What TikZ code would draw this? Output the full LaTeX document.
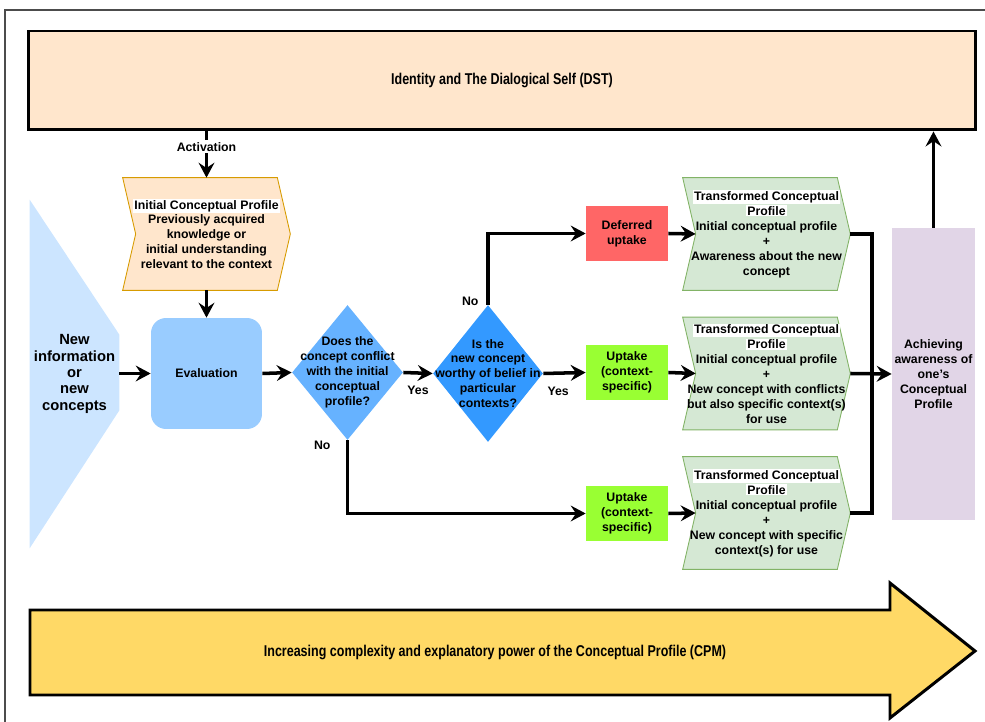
\documentclass[tikz,border=0pt]{standalone}
\usepackage{fontspec}
\setmainfont{Liberation Sans}
\newfontfamily\narrowfont[FakeStretch=0.8]{Liberation Sans}
\definecolor{dstpeach}{RGB}{255, 230, 204}
\definecolor{peachline}{RGB}{215, 155, 0}
\definecolor{profgreen}{RGB}{213, 232, 212}
\definecolor{greenline}{RGB}{130, 179, 102}
\definecolor{infoblue}{RGB}{204, 229, 255}
\definecolor{evalblue}{RGB}{153, 204, 255}
\definecolor{qblue1}{RGB}{102, 178, 255}
\definecolor{qblue2}{RGB}{51, 153, 255}
\definecolor{deferred}{RGB}{255, 102, 102}
\definecolor{uptakegreen}{RGB}{153, 255, 51}
\definecolor{achpurple}{RGB}{225, 213, 231}
\definecolor{cpmyellow}{RGB}{255, 217, 102}
\usetikzlibrary{shapes, arrows.meta, positioning, calc, backgrounds}
\newcommand{\hl}[1]{{\setlength{\fboxsep}{0.6pt}\colorbox{white}{#1}}}
\tikzset{
  txt/.style={font=\fontsize{7}{8.5}\selectfont\bfseries, align=center, inner sep=1pt},
  bignarrow/.style={font=\fontsize{8.9}{10}\selectfont\bfseries\narrowfont, align=center},
  flownode/.style={txt, minimum width=1.64cm, minimum height=1.1cm},
  profnode/.style={txt, minimum width=3.34cm, minimum height=2.24cm},
  qdiamond/.style={diamond, inner sep=0pt, minimum width=2.22cm, minimum height=2.7cm},
  stepline/.style={line width=0.5pt},
  flowarrow/.style={-{Stealth[length=8.5pt, width=9pt, inset=3pt]}, line width=2pt},
  flowline/.style={line width=2pt},
  lbl/.style={txt},
}
\begin{document}
\begin{tikzpicture}[x=0.02cm, y=-0.02cm]
  \useasboundingbox (0,0) rectangle (985,722);
  \draw[line width=1pt, gray!60!black] (5,722) -- (5,10) -- (985,10);
  \node[draw, line width=1.7pt, fill=dstpeach, minimum width=18.96cm, minimum height=1.98cm, bignarrow] (dst) at (502,80.5) {Identity and The Dialogical Self (DST)};
  \node[profnode] (icp) at (206.5,234) {\hl{Initial Conceptual Profile}\\Previously acquired\\knowledge or\\initial understanding\\relevant to the context};
  \node[txt, rounded corners=0.3cm, fill=evalblue, minimum width=2.22cm, minimum height=2.22cm] (eval) at (206.5,373.5) {Evaluation};
  \node[txt, font=\fontsize{8.4}{9.3}\selectfont\bfseries, minimum width=1.78cm, minimum height=6.96cm] (info) at (74.5,374) {New\\information\\or\\new\\concepts};
  \node[qdiamond, fill=qblue1, label={[txt]center:{Does the\\concept conflict\\with the initial\\conceptual\\profile?}}] (q1) at (347.5,372.5) {};
  \node[qdiamond, fill=qblue2, minimum width=2.2cm, minimum height=2.74cm, label={[txt]center:{Is the\\new concept\\worthy of belief in\\particular\\contexts?}}] (q2) at (488,373.5) {};
  \node[flownode, fill=deferred] (defer) at (627,233.5) {Deferred\\uptake};
  \node[flownode, fill=uptakegreen] (up1) at (627,372.5) {Uptake\\(context-\\specific)};
  \node[flownode, fill=uptakegreen] (up2) at (627,513.5) {Uptake\\(context-\\specific)};
  \node[profnode] (tp1) at (766.5,234) {\hl{Transformed Conceptual}\\\hl{Profile}\\Initial conceptual profile\\+\\Awareness about the new\\concept};
  \node[profnode] (tp2) at (766.5,373.5) {\hl{Transformed Conceptual}\\\hl{Profile}\\Initial conceptual profile\\+\\New concept with conflicts\\but also specific context(s)\\for use};
  \node[profnode] (tp3) at (766.5,513) {\hl{Transformed Conceptual}\\\hl{Profile}\\Initial conceptual profile\\+\\New concept with specific\\context(s) for use};
  \node[txt, fill=achpurple, minimum width=1.66cm, minimum height=5.84cm] (ach) at (933.5,374) {Achieving\\awareness of\\one’s\\Conceptual\\Profile};
  \node[bignarrow] (cpm) at (495,652) {Increasing complexity and explanatory power of the Conceptual Profile (CPM)};
  \coordinate (join) at (872,373);
  \begin{scope}[on background layer]
    \fill[infoblue] (info.north west) -- ([yshift=-2.7cm]info.north east) -- ([yshift=2.76cm]info.south east) -- (info.south west) -- cycle;
    \draw[stepline, fill=dstpeach, draw=peachline] (icp.north west) -- ([xshift=-0.26cm]icp.north east) -- (icp.east) -- ([xshift=-0.26cm]icp.south east) -- (icp.south west) -- ([xshift=0.26cm]icp.west) -- cycle;
    \draw[stepline, fill=profgreen, draw=greenline] (tp1.north west) -- ([xshift=-0.26cm]tp1.north east) -- (tp1.east) -- ([xshift=-0.26cm]tp1.south east) -- (tp1.south west) -- ([xshift=0.26cm]tp1.west) -- cycle;
    \draw[stepline, fill=profgreen, draw=greenline] (tp2.north west) -- ([xshift=-0.26cm]tp2.north east) -- (tp2.east) -- ([xshift=-0.26cm]tp2.south east) -- (tp2.south west) -- ([xshift=0.26cm]tp2.west) -- cycle;
    \draw[stepline, fill=profgreen, draw=greenline] (tp3.north west) -- ([xshift=-0.26cm]tp3.north east) -- (tp3.east) -- ([xshift=-0.26cm]tp3.south east) -- (tp3.south west) -- ([xshift=0.26cm]tp3.west) -- cycle;
    \draw[line width=1.7pt, fill=cpmyellow, line join=miter] (30,610) -- (890,610) -- (890,583) -- (975,651) -- (890,718) -- (890,695) -- (30,695) -- cycle;
  \end{scope}
  \draw[flowarrow] (dst.south -| icp.north) -- (icp.north) node[lbl, pos=0.33, fill=white] {Activation};
  \draw[flowarrow] (icp.south) -- (eval.north);
  \draw[flowarrow] (info.east |- eval.west) -- (eval.west);
  \draw[flowarrow] (eval.east) -- (q1.west);
  \draw[flowarrow] (q1.east) -- (q2.west) node[lbl, midway, below=0.2cm] {Yes};
  \draw[flowarrow] (q2.north) |- (defer.west);
  \node[lbl, left=0.15cm of q2.north, yshift=2pt] {No};
  \draw[flowarrow] (q2.east) -- (up1.west) node[lbl, pos=0.35, below=0.2cm] {Yes};
  \draw[flowarrow] (q1.south) |- (up2.west);
  \node[lbl, left=0.3cm of q1.south, yshift=-3pt] {No};
  \draw[flowarrow] (defer.east) -- ([xshift=0.26cm]tp1.west);
  \draw[flowarrow] (up1.east) -- ([xshift=0.26cm]tp2.west);
  \draw[flowarrow] (up2.east) -- ([xshift=0.26cm]tp3.west);
  \draw[flowline] (tp1.east) -| (join) |- (tp3.east);
  \draw[flowarrow] (tp2.east) -- (ach.west);
  \draw[flowarrow] (ach.north) -- (ach.north |- dst.south);
\end{tikzpicture}
\end{document}
